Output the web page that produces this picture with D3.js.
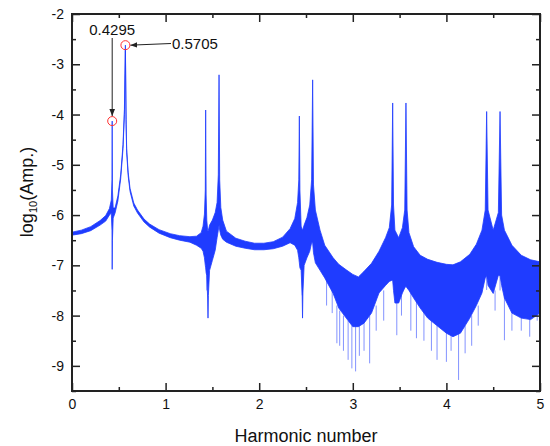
<!DOCTYPE html>
<html lang="en">
<head>
  <meta charset="UTF-8">
  <title>harmonic spectrum</title>
  <script src="https://d3js.org/d3.v7.min.js"></script>
  <style>
    body { margin: 0; background: #fff; }
    svg text { font-family: "Liberation Sans", Arial, sans-serif; fill: #111; }
  </style>
</head>
<body>
  <svg id="chart" width="550" height="446"></svg>
  <script>
    // envelope of the spectrum: [harmonic, upper log10 amp, lower log10 amp]
    const band = [
      [0.00, -6.34, -6.40], [0.10, -6.30, -6.37], [0.20, -6.23, -6.31], [0.30, -6.11, -6.20],
      [0.36, -6.01, -6.12], [0.40, -5.87, -6.00], [0.42, -5.70, -5.96], [0.427, -5.30, -6.30],
      [0.4295, -4.13, -7.08], [0.432, -5.50, -6.50], [0.44, -5.86, -6.06], [0.46, -5.86, -5.96],
      [0.49, -5.62, -5.72], [0.52, -5.20, -5.28], [0.545, -4.60, -4.68], [0.56, -3.90, -4.00],
      [0.5705, -2.62, -2.72], [0.578, -4.10, -4.20], [0.584, -4.68, -4.75], [0.60, -5.15, -5.22],
      [0.62, -5.47, -5.53], [0.66, -5.76, -5.82], [0.70, -5.90, -5.96], [0.77, -6.08, -6.14],
      [0.83, -6.18, -6.24], [0.93, -6.29, -6.36], [1.05, -6.37, -6.45], [1.15, -6.41, -6.50],
      [1.26, -6.43, -6.54], [1.33, -6.42, -6.60], [1.38, -6.35, -6.66], [1.40, -6.22, -6.72],
      [1.415, -5.98, -6.85], [1.424, -5.50, -7.00], [1.428, -3.91, -7.05], [1.433, -5.60, -7.15],
      [1.44, -6.10, -7.20], [1.449, -6.30, -7.65], [1.453, -6.32, -8.05], [1.457, -6.30, -7.60],
      [1.47, -6.20, -7.10], [1.50, -6.10, -6.90], [1.53, -5.95, -6.70], [1.55, -5.75, -6.45],
      [1.563, -5.20, -6.30], [1.571, -3.21, -6.20], [1.578, -5.30, -6.30], [1.59, -5.85, -6.40],
      [1.61, -6.10, -6.48], [1.65, -6.32, -6.54], [1.75, -6.46, -6.62], [1.85, -6.52, -6.66],
      [1.95, -6.56, -6.69], [2.05, -6.56, -6.69], [2.15, -6.53, -6.67], [2.25, -6.44, -6.62],
      [2.33, -6.27, -6.55], [2.38, -6.07, -6.60], [2.41, -5.75, -6.70], [2.423, -5.30, -6.85],
      [2.429, -4.03, -6.95], [2.435, -5.50, -7.05], [2.448, -6.22, -7.10], [2.459, -6.28, -7.60],
      [2.463, -6.30, -8.05], [2.467, -6.28, -7.55], [2.48, -6.20, -7.00], [2.51, -6.05, -6.85],
      [2.54, -5.80, -6.72], [2.56, -5.30, -6.55], [2.571, -3.31, -6.55], [2.58, -5.40, -6.75],
      [2.60, -5.90, -6.95], [2.65, -6.30, -7.10], [2.70, -6.60, -7.25], [2.79, -6.85, -7.56],
      [2.85, -6.98, -7.85], [2.93, -7.09, -8.05], [3.00, -7.18, -8.22], [3.06, -7.23, -8.22],
      [3.12, -7.12, -8.15], [3.20, -6.96, -7.95], [3.28, -6.72, -7.55], [3.35, -6.45, -7.40],
      [3.39, -6.25, -7.32], [3.415, -5.80, -7.30], [3.426, -3.77, -7.30], [3.435, -5.80, -7.50],
      [3.45, -6.30, -7.75], [3.49, -6.45, -7.75], [3.53, -6.25, -7.55], [3.555, -5.90, -7.45],
      [3.568, -3.77, -7.42], [3.58, -5.90, -7.45], [3.60, -6.35, -7.50], [3.65, -6.63, -7.65],
      [3.72, -6.80, -7.85], [3.80, -6.88, -8.05], [3.90, -6.94, -8.20], [4.00, -6.98, -8.35],
      [4.07, -6.99, -8.42], [4.15, -6.93, -8.35], [4.25, -6.78, -8.05], [4.32, -6.58, -7.80],
      [4.38, -6.30, -7.55], [4.415, -5.90, -7.25], [4.43, -3.94, -7.20], [4.445, -5.90, -7.40],
      [4.50, -6.30, -7.56], [4.555, -5.95, -7.20], [4.573, -3.94, -7.20], [4.59, -6.00, -7.40],
      [4.62, -6.30, -7.65], [4.70, -6.60, -7.95], [4.80, -6.80, -8.05], [4.90, -6.89, -8.08],
      [5.00, -6.93, -7.95]
    ];

    // lighter downward spikes below the noise band: [harmonic, from, to]
    const spikes = [
      [1.44, -6.9, -7.5], [2.46, -7.0, -7.6], [2.72, -7.2, -7.8], [2.78, -7.5, -7.95],
      [2.83, -7.8, -8.55], [2.86, -7.9, -8.6], [2.90, -8.0, -8.7], [2.95, -8.1, -8.88],
      [2.99, -8.2, -9.05], [3.03, -8.2, -9.11], [3.07, -8.2, -8.8], [3.12, -8.1, -8.7],
      [3.18, -8.0, -8.95], [3.25, -7.8, -8.3], [3.33, -7.5, -8.1], [3.47, -7.7, -8.39],
      [3.52, -7.6, -8.0], [3.62, -7.5, -8.3], [3.68, -7.7, -8.45], [3.76, -7.9, -8.5],
      [3.84, -8.1, -8.7], [3.90, -8.2, -8.88], [4.00, -8.3, -8.92], [4.05, -8.35, -8.7],
      [4.13, -8.35, -9.28], [4.20, -8.2, -8.75], [4.27, -8.0, -8.6], [4.34, -7.8, -8.2],
      [4.43, -7.2, -7.49], [4.52, -7.5, -7.9], [4.573, -7.2, -7.5], [4.62, -7.6, -8.49],
      [4.70, -7.9, -8.3], [4.80, -8.0, -8.3], [4.89, -8.0, -8.42], [4.97, -7.9, -8.1]
    ];

    // annotated peaks: [harmonic, log10 amp, label]
    const marks = [[0.4295, -4.13, "0.4295"], [0.5705, -2.62, "0.5705"]];

    const xTicks = [0, 1, 2, 3, 4, 5];
    const yTicks = [-9, -8, -7, -6, -5, -4, -3, -2];

    const svg = d3.select("#chart");
    const x = d3.scaleLinear().domain([0, 5]).range([72, 540]);
    const y = d3.scaleLinear().domain([-9.5, -2]).range([391, 14]);
    const blue = "#1f3cff";

    // spectrum
    svg.append("path")
      .datum(band)
      .attr("d", d3.area().x(d => x(d[0])).y0(d => y(d[2])).y1(d => y(d[1])))
      .attr("fill", blue)
      .attr("stroke", blue)
      .attr("stroke-width", 0.8);

    svg.append("g").selectAll("line").data(spikes).join("line")
      .attr("x1", d => x(d[0])).attr("x2", d => x(d[0]))
      .attr("y1", d => y(d[1])).attr("y2", d => y(d[2]))
      .attr("stroke", blue).attr("stroke-width", 1).attr("opacity", 0.55);

    // axes, ticks pointing inward on all four sides
    const minorX = d3.range(0.5, 5, 1);
    const minorY = d3.range(-9.5, -2, 1);
    const fmt = d => String(d);

    function addAxis(axis, tx, ty, values, size, labels) {
      const g = svg.append("g").attr("transform", `translate(${tx},${ty})`)
        .call(axis.tickValues(values).tickSize(size).tickPadding(8)
          .tickFormat(labels ? fmt : ""));
      g.select(".domain").remove();
      g.selectAll(".tick line").attr("stroke", "#222").attr("stroke-width", 1.5);
      g.selectAll("text").style("font-size", "14px").attr("fill", "#111");
      return g;
    }
    addAxis(d3.axisBottom(x), 0, 391, xTicks, -8, true);
    addAxis(d3.axisBottom(x), 0, 391, minorX, -4, false);
    addAxis(d3.axisTop(x), 0, 14, xTicks, -8, false);
    addAxis(d3.axisTop(x), 0, 14, minorX, -4, false);
    addAxis(d3.axisLeft(y), 72, 0, yTicks, -8, true);
    addAxis(d3.axisLeft(y), 72, 0, minorY, -4, false);
    addAxis(d3.axisRight(y), 540, 0, yTicks, -8, false);
    addAxis(d3.axisRight(y), 540, 0, minorY, -4, false);

    svg.append("rect")
      .attr("x", x(0)).attr("y", y(-2))
      .attr("width", x(5) - x(0)).attr("height", y(-9.5) - y(-2))
      .attr("fill", "none").attr("stroke", "#222").attr("stroke-width", 2);

    // axis titles
    svg.append("text")
      .attr("x", 306).attr("y", 442)
      .attr("text-anchor", "middle")
      .style("font-size", "18px")
      .text("Harmonic number");

    const yl = svg.append("text")
      .attr("transform", "translate(33,192) rotate(-90)")
      .attr("text-anchor", "middle")
      .style("font-size", "18px");
    yl.append("tspan").text("log");
    yl.append("tspan").text("10").style("font-size", "11px").attr("dy", 4);
    yl.append("tspan").text("(Amp.)").attr("dy", -4);

    // annotations
    svg.append("defs").append("marker")
      .attr("id", "arrow").attr("viewBox", "0 0 10 10")
      .attr("refX", 10).attr("refY", 5)
      .attr("markerWidth", 7).attr("markerHeight", 7)
      .attr("orient", "auto")
      .append("path").attr("d", "M0,1L10,5L0,9z").attr("fill", "#222");

    svg.selectAll("circle.mark").data(marks).join("circle")
      .attr("class", "mark")
      .attr("cx", d => x(d[0])).attr("cy", d => y(d[1]))
      .attr("r", 4.5)
      .attr("fill", "none").attr("stroke", "#ff3030").attr("stroke-width", 1);

    const m0 = marks[0], m1 = marks[1];
    svg.append("line")
      .attr("x1", x(m0[0])).attr("y1", 38)
      .attr("x2", x(m0[0])).attr("y2", y(m0[1]) - 5)
      .attr("stroke", "#222").attr("stroke-width", 1)
      .attr("marker-end", "url(#arrow)");
    svg.append("text")
      .attr("x", x(m0[0])).attr("y", 35)
      .attr("text-anchor", "middle")
      .style("font-size", "15px")
      .text(m0[2]);

    svg.append("line")
      .attr("x1", 171).attr("y1", 43.5)
      .attr("x2", x(m1[0]) + 5).attr("y2", y(m1[1]))
      .attr("stroke", "#222").attr("stroke-width", 1)
      .attr("marker-end", "url(#arrow)");
    svg.append("text")
      .attr("x", 172).attr("y", 49)
      .style("font-size", "15px")
      .text(m1[2]);
  </script>
</body>
</html>
